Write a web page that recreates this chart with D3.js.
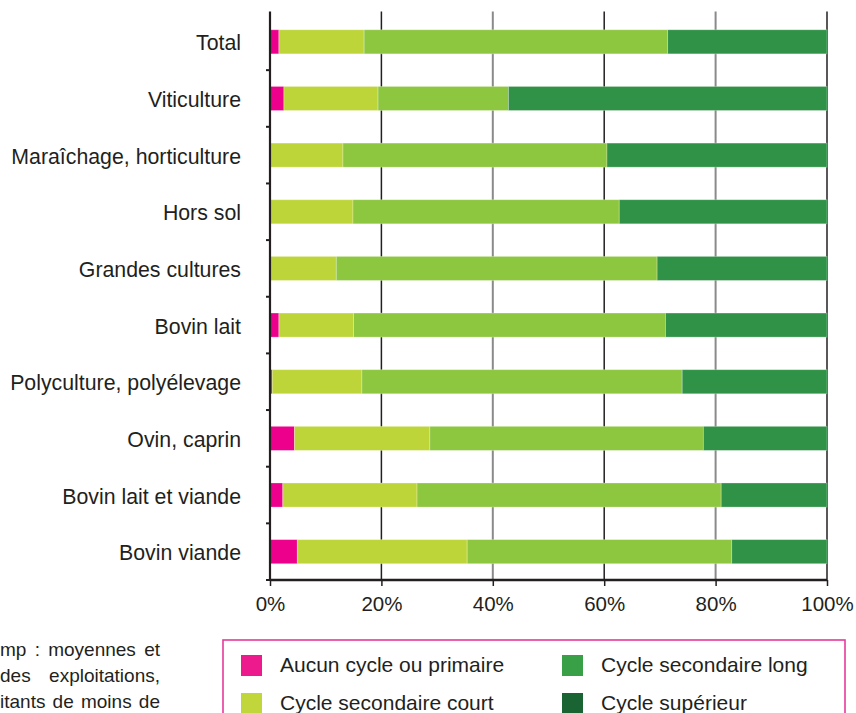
<!DOCTYPE html>
<html>
<head>
<meta charset="utf-8">
<script src="https://cdn.jsdelivr.net/npm/d3@7"></script>
<style>
  body { margin: 0; background: #fff; }
  svg { display: block; font-family: "Liberation Sans", Arial, sans-serif; }
</style>
</head>
<body>
<div id="chart"></div>
<script>
// Data (share of each level, %)
const categories = ["Total", "Viticulture", "Maraîchage, horticulture", "Hors sol", "Grandes cultures",
  "Bovin lait", "Polyculture, polyélevage", "Ovin, caprin", "Bovin lait et viande", "Bovin viande"];
const seriesNames = ["Aucun cycle ou primaire", "Cycle secondaire court", "Cycle secondaire long", "Cycle supérieur"];
const aucun      = [1.6, 2.5, 0.0, 0.0, 0.0, 1.6, 0.4, 4.4, 2.3, 4.9];
const secCourt   = [15.3, 16.9, 13.1, 14.9, 11.9, 13.4, 16.1, 24.3, 24.1, 30.5];
const secLong    = [54.5, 23.4, 47.4, 47.8, 57.6, 56.0, 57.5, 49.1, 54.6, 47.5];
const superieur  = [28.6, 57.2, 39.5, 37.3, 30.5, 29.0, 26.0, 22.2, 19.0, 17.1];
const tickValues = [0, 20, 40, 60, 80, 100];
// visible part of the note (cut by the page edge in the source)
const noteLines = ["mp : moyennes et", "des exploitations,", "itants de moins de"];

const barColors = ["#ec008c", "#bed53a", "#8dc63f", "#2f9246"];
const legendColors = ["#ec1a8c", "#c0d63a", "#3aa047", "#1a6434"];
const textColor = "#231f20";

const width = 856, height = 713;
const margin = { top: 13.5, right: 29, bottom: 133, left: 270 };

const svg = d3.select("#chart").append("svg")
  .attr("width", width)
  .attr("height", height);

// Build table for the stack
const table = categories.map((c, i) => ({
  cat: c, s0: aucun[i], s1: secCourt[i], s2: secLong[i], s3: superieur[i]
}));
const stacked = d3.stack().keys(["s0", "s1", "s2", "s3"])(table);

// Scales
const x = d3.scaleLinear().domain([0, 100]).range([margin.left, width - margin.right]);
const y = d3.scaleBand().domain(categories)
  .range([margin.top, height - margin.bottom])
  .paddingInner(0.575).paddingOuter(0.2875);
const step = y.step();
const y0 = margin.top, y1 = height - margin.bottom;

// Gridlines (alternating black / grey as in the original)
svg.append("g").selectAll("line")
  .data(tickValues.slice(1))
  .enter().append("line")
  .attr("x1", d => x(d)).attr("x2", d => x(d))
  .attr("y1", y0 - 2).attr("y2", y1)
  .attr("stroke", (d, i) => i % 2 === 0 ? "#231f20" : "#8a8a8a")
  .attr("stroke-width", (d, i) => i % 2 === 0 ? 1.5 : 2);

// Bars
svg.append("g").selectAll("g")
  .data(stacked)
  .enter().append("g")
  .attr("fill", (d, i) => barColors[i])
  .selectAll("rect")
  .data(d => d)
  .enter().append("rect")
  .attr("x", d => x(d[0]))
  .attr("y", d => y(d.data.cat))
  .attr("width", d => x(d[1]) - x(d[0]))
  .attr("height", y.bandwidth())
  .attr("stroke", "rgba(255,255,255,0.35)")
  .attr("stroke-width", 0.8);

// Y axis line and small ticks between categories
svg.append("line")
  .attr("x1", x(0)).attr("x2", x(0))
  .attr("y1", y0 - 2).attr("y2", y1)
  .attr("stroke", textColor).attr("stroke-width", 2.2);

svg.append("g").selectAll("line")
  .data(categories)
  .enter().append("line")
  .attr("x1", x(0) - 4).attr("x2", x(0))
  .attr("y1", d => y(d) - step * 0.2875 + step)
  .attr("y2", d => y(d) - step * 0.2875 + step)
  .attr("stroke", textColor).attr("stroke-width", 2);

// Category labels
svg.append("g").selectAll("text")
  .data(categories)
  .enter().append("text")
  .attr("x", x(0) - 29)
  .attr("y", d => y(d) + y.bandwidth() / 2)
  .attr("dy", "0.4em")
  .attr("text-anchor", "end")
  .attr("fill", textColor)
  .style("font-size", "21.3px")
  .text(d => d);

// X axis
const xAxis = svg.append("g")
  .attr("transform", "translate(0," + y1 + ")")
  .call(d3.axisBottom(x).tickValues(tickValues).tickSize(6).tickFormat(d => d + "%"));
xAxis.select(".domain").attr("stroke", textColor).attr("stroke-width", 2.6)
  .attr("d", "M" + x(0) + ",0H" + x(100));
xAxis.selectAll(".tick line").attr("stroke", textColor).attr("stroke-width", 1.5);
xAxis.selectAll(".tick text")
  .attr("y", 16)
  .attr("dy", "0.71em")
  .attr("fill", textColor)
  .style("font-size", "20.5px")
  .style("font-family", "'Liberation Sans', Arial, sans-serif");

// Note text, justified between x=0 and x=160
svg.append("g").selectAll("text")
  .data(noteLines)
  .enter().append("text")
  .attr("x", 0)
  .attr("y", (d, i) => 656 + i * 26)
  .attr("fill", textColor)
  .style("font-size", "19px")
  .text(d => d)
  .each(function(d) {
    const gaps = d.split(" ").length - 1;
    const extra = (160 - this.getComputedTextLength()) / gaps;
    d3.select(this).style("word-spacing", extra + "px");
  });

// Legend
const legend = svg.append("g");
legend.append("rect")
  .attr("x", 223).attr("y", 640)
  .attr("width", 622).attr("height", 90)
  .attr("fill", "none")
  .attr("stroke", "#e6399b").attr("stroke-width", 1.6);

const legendPos = [[241, 655], [241, 693], [562, 655], [562, 693]];
legend.selectAll(".sw")
  .data(seriesNames)
  .enter().append("rect")
  .attr("x", (d, i) => legendPos[i][0])
  .attr("y", (d, i) => legendPos[i][1])
  .attr("width", 21).attr("height", 21)
  .attr("fill", (d, i) => legendColors[i]);

legend.selectAll(".lt")
  .data(seriesNames)
  .enter().append("text")
  .attr("x", (d, i) => legendPos[i][0] + 39)
  .attr("y", (d, i) => legendPos[i][1] + 17)
  .attr("fill", textColor)
  .style("font-size", "21px")
  .text(d => d);
</script>
</body>
</html>
